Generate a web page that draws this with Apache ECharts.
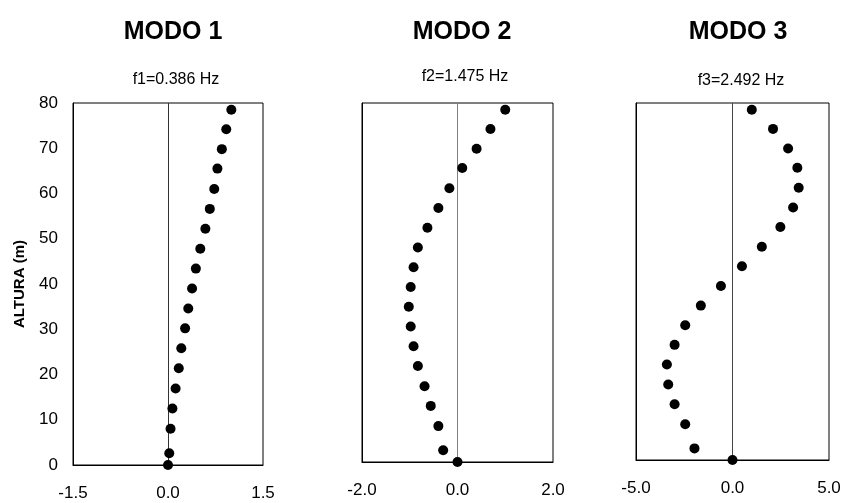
<!DOCTYPE html>
<html>
<head>
<meta charset="utf-8">
<script src="https://cdn.jsdelivr.net/npm/echarts@6/dist/echarts.min.js"></script>
<style>html,body{margin:0;padding:0;background:#fff}#c{width:844px;height:503px}</style>
</head>
<body>
<div id="c"></div>
<script>
// Heights (m), bottom to top
const heights = [0, 2.6, 8.0, 12.5, 16.9, 21.4, 25.8, 30.2, 34.6, 39.0, 43.4, 47.8, 52.2, 56.6, 61.0, 65.5, 69.8, 74.2, 78.5];
// Modal displacements
const mode1 = [0, 0.02, 0.04, 0.07, 0.12, 0.17, 0.21, 0.27, 0.32, 0.38, 0.44, 0.51, 0.59, 0.66, 0.73, 0.78, 0.85, 0.92, 1.00];
const mode2 = [0, -0.30, -0.40, -0.56, -0.69, -0.83, -0.92, -0.98, -1.02, -0.98, -0.92, -0.83, -0.63, -0.40, -0.17, 0.10, 0.40, 0.69, 1.00];
const mode3 = [0, -1.97, -2.45, -3.00, -3.33, -3.40, -3.00, -2.45, -1.64, -0.60, 0.49, 1.52, 2.48, 3.14, 3.43, 3.36, 2.88, 2.10, 1.00];
const titles = ['MODO 1', 'MODO 2', 'MODO 3'];
const subtitles = ['f1=0.386 Hz', 'f2=1.475 Hz', 'f3=2.492 Hz'];
const xRanges = [[-1.5, 1.5, 1.5], [-2, 2, 2], [-5, 5, 5]];
const yRange = [0, 80, 10];
const yAxisTitle = 'ALTURA (m)';

const FONT = 'Liberation Sans, Arial, sans-serif';
const modes = [mode1, mode2, mode3];
const grids = [
  {left: 73, top: 103, width: 190, height: 362},
  {left: 362, top: 103, width: 191, height: 359},
  {left: 636, top: 103, width: 193, height: 357}
];
const titleX = [168, 457, 733];
const titleY = [15, 15, 15];
const subY = [67, 64, 68];
const zeroColors = ['#333', '#808080', '#444'];

const option = {
  animation: false,
  backgroundColor: '#fff',
  title: [],
  grid: grids.map(g => Object.assign({show: true, borderColor: '#000', borderWidth: 1, backgroundColor: 'transparent'}, g)),
  xAxis: [],
  yAxis: [],
  series: []
};

for (let i = 0; i < 3; i++) {
  option.title.push({
    text: titles[i], left: titleX[i], top: titleY[i], textAlign: 'center',
    textStyle: {fontFamily: FONT, fontSize: 25, fontWeight: 'bold', color: '#000'}
  });
  option.title.push({
    text: subtitles[i], left: titleX[i] + 3, top: subY[i], textAlign: 'center',
    textStyle: {fontFamily: FONT, fontSize: 16, fontWeight: 'normal', color: '#000'}
  });
  option.xAxis.push({
    type: 'value', gridIndex: i,
    min: xRanges[i][0], max: xRanges[i][1], interval: xRanges[i][2],
    axisLine: {show: true, onZero: false, lineStyle: {color: '#000', width: 1}},
    axisTick: {show: false},
    splitLine: {show: false},
    axisLabel: {
      fontFamily: FONT, fontSize: 17, color: '#000', margin: 20,
      formatter: v => v.toFixed(1)
    }
  });
  option.yAxis.push({
    type: 'value', gridIndex: i,
    min: yRange[0], max: yRange[1], interval: yRange[2],
    axisLine: {show: true, onZero: false, lineStyle: {color: '#000', width: 1}},
    axisTick: {show: false},
    splitLine: {show: false},
    axisLabel: {show: i === 0, fontFamily: FONT, fontSize: 17, color: '#000', margin: 15},
    name: i === 0 ? yAxisTitle : '',
    nameLocation: 'middle', nameGap: 46, nameRotate: 90,
    nameTextStyle: {fontFamily: FONT, fontSize: 15, fontWeight: 'bold', color: '#000'}
  });
  option.series.push({
    type: 'scatter', xAxisIndex: i, yAxisIndex: i,
    symbol: 'circle', symbolSize: 10,
    itemStyle: {color: '#000', opacity: 1},
    data: modes[i].map((v, k) => [v, heights[k]]),
    z: 5,
    markLine: {
      silent: true, symbol: 'none', label: {show: false},
      lineStyle: {color: zeroColors[i], width: 1, type: 'solid', opacity: 1},
      data: [{xAxis: 0}],
      z: 1
    }
  });
}

const chart = echarts.init(document.getElementById('c'), null, {renderer: 'canvas'});
chart.setOption(option);
</script>
</body>
</html>
